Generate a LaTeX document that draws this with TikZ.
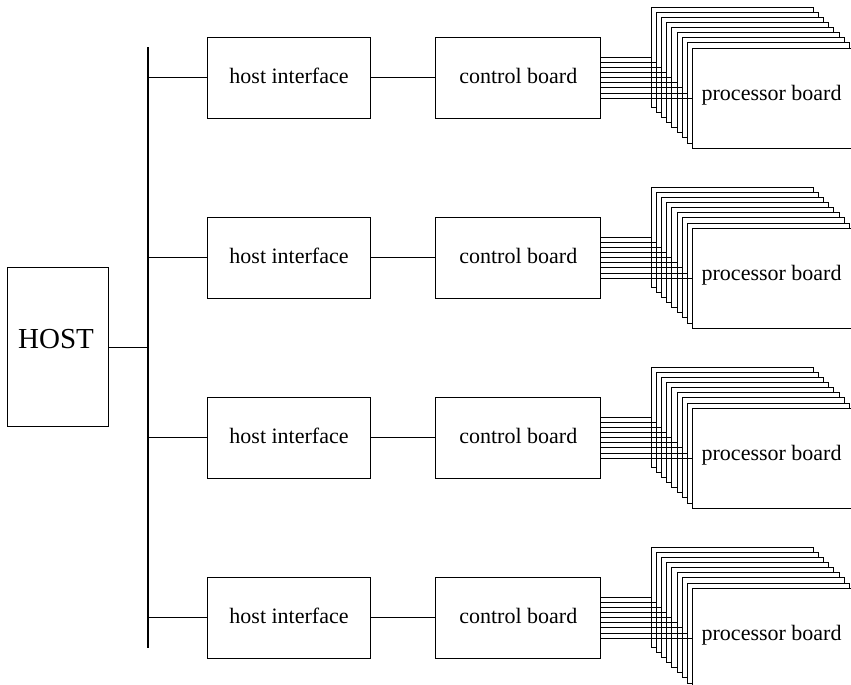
\documentclass[tikz,border=0pt]{standalone}
\usepackage{fontspec}
\setmainfont{Liberation Serif}
\begin{document}
\begin{tikzpicture}[x=1pt,y=-1pt,
  box/.style={draw,line width=1pt,inner sep=0pt,fill=white,font=\fontsize{22}{26}\selectfont},
  wire/.style={line width=1pt},
  busline/.style={line width=2.4pt},
  board/.style={box,minimum width=162pt,minimum height=100pt},
  unitbox/.style={box,minimum height=81pt,text height=15pt,text depth=4pt},
  label/.style={inner sep=0pt,font=\fontsize{22}{26}\selectfont}]
\useasboundingbox (0,0) rectangle (851,685);
\clip (0,0) rectangle (851,685);
% host computer and its bus
\node[box,minimum width=101pt,minimum height=159.4pt] (host) at (57.8,347) {};
\node[anchor=base,inner sep=0pt,font=\fontsize{29}{34}\selectfont] (hostlabel) at (56,348.3) {HOST};
\coordinate (bustop) at (147.7,47.3);
\coordinate (busbot) at (147.7,648.2);
\draw[busline] (bustop) -- (busbot);
\draw[wire] (host.east) -- (host.east -| bustop);
% four identical branches
\foreach \r/\yc in {1/77.8,2/257.8,3/437.8,4/617.8} {
  \node[unitbox,minimum width=163.4pt] (hi\r) at (289,\yc) {host interface};
  \node[unitbox,minimum width=165.3pt] (cb\r) at (518.3,\yc) {control board};
  \draw[wire] (hi\r.west -| bustop) -- (hi\r.west);
  \draw[wire] (hi\r) -- (cb\r);
  % stack of nine processor boards, back to front, each with its own link
  \foreach \k in {0,...,8} {
    \node[board] (pb\r-\k) at ({732+5.2*\k},{\yc-20.5+5.1*\k}) {};
    \draw[wire] (cb\r.east |- pb\r-\k.west) -- (pb\r-\k.west);
  }
  \node[label,anchor=base] (pl\r) at ([xshift=-2pt,yshift=-2pt]pb\r-8.center) {processor board};
}
\end{tikzpicture}
\end{document}
